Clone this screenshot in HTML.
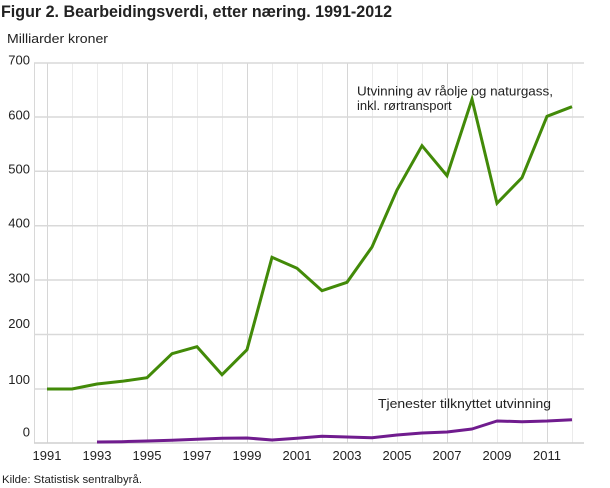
<!DOCTYPE html>
<html><head><meta charset="utf-8"><style>
html,body{margin:0;padding:0;background:#fff;}
svg{display:block;font-family:"Liberation Sans","DejaVu Sans",sans-serif;}
</style></head><body>
<svg width="610" height="488" viewBox="0 0 610 488" xmlns="http://www.w3.org/2000/svg">
<rect width="610" height="488" fill="#fff"/>
<text x="1" y="17" font-size="17" font-weight="bold" fill="#222" textLength="391" lengthAdjust="spacingAndGlyphs">Figur 2. Bearbeidingsverdi, etter næring. 1991-2012</text>
<text x="7" y="43" font-size="13" fill="#222" textLength="101" lengthAdjust="spacingAndGlyphs">Milliarder kroner</text>
<g stroke-width="1">
<line x1="34.5" y1="63" x2="34.5" y2="443" stroke="#d8d8d8"/>
<line x1="47.5" y1="63" x2="47.5" y2="443" stroke="#d6d6d6"/>
<line x1="72.5" y1="63" x2="72.5" y2="443" stroke="#ebebeb"/>
<line x1="97.5" y1="63" x2="97.5" y2="443" stroke="#ebebeb"/>
<line x1="122.5" y1="63" x2="122.5" y2="443" stroke="#ebebeb"/>
<line x1="147.5" y1="63" x2="147.5" y2="443" stroke="#d6d6d6"/>
<line x1="172.5" y1="63" x2="172.5" y2="443" stroke="#ebebeb"/>
<line x1="197.5" y1="63" x2="197.5" y2="443" stroke="#ebebeb"/>
<line x1="222.5" y1="63" x2="222.5" y2="443" stroke="#ebebeb"/>
<line x1="247.5" y1="63" x2="247.5" y2="443" stroke="#d6d6d6"/>
<line x1="272.5" y1="63" x2="272.5" y2="443" stroke="#ebebeb"/>
<line x1="297.5" y1="63" x2="297.5" y2="443" stroke="#ebebeb"/>
<line x1="322.5" y1="63" x2="322.5" y2="443" stroke="#ebebeb"/>
<line x1="347.5" y1="63" x2="347.5" y2="443" stroke="#d6d6d6"/>
<line x1="372.5" y1="63" x2="372.5" y2="443" stroke="#ebebeb"/>
<line x1="397.5" y1="63" x2="397.5" y2="443" stroke="#ebebeb"/>
<line x1="422.5" y1="63" x2="422.5" y2="443" stroke="#ebebeb"/>
<line x1="447.5" y1="63" x2="447.5" y2="443" stroke="#d6d6d6"/>
<line x1="472.5" y1="63" x2="472.5" y2="443" stroke="#ebebeb"/>
<line x1="497.5" y1="63" x2="497.5" y2="443" stroke="#ebebeb"/>
<line x1="522.5" y1="63" x2="522.5" y2="443" stroke="#ebebeb"/>
<line x1="547.5" y1="63" x2="547.5" y2="443" stroke="#d6d6d6"/>
<line x1="572.5" y1="63" x2="572.5" y2="443" stroke="#ebebeb"/>
</g>
<g stroke="#d9d9d9" stroke-width="1.5">
<line x1="34" y1="63" x2="584" y2="63"/>
<line x1="34" y1="117" x2="584" y2="117"/>
<line x1="34" y1="171.3" x2="584" y2="171.3"/>
<line x1="34" y1="225.7" x2="584" y2="225.7"/>
<line x1="34" y1="280" x2="584" y2="280"/>
<line x1="34" y1="334.5" x2="584" y2="334.5"/>
<line x1="34" y1="389" x2="584" y2="389"/>
<line x1="34" y1="443" x2="584" y2="443" stroke="#cfcfcf"/>
</g>
<g font-size="13" fill="#222" text-anchor="end">
<text x="30" y="64.5">700</text>
<text x="30" y="119.5">600</text>
<text x="30" y="173.5">500</text>
<text x="30" y="227.5">400</text>
<text x="30" y="282.5">300</text>
<text x="30" y="328">200</text>
<text x="30" y="384">100</text>
<text x="30" y="436.5">0</text>
</g>
<g font-size="13" fill="#222" text-anchor="middle">
<text x="47" y="460">1991</text>
<text x="97" y="460">1993</text>
<text x="147" y="460">1995</text>
<text x="197" y="460">1997</text>
<text x="247" y="460">1999</text>
<text x="297" y="460">2001</text>
<text x="347" y="460">2003</text>
<text x="397" y="460">2005</text>
<text x="447" y="460">2007</text>
<text x="497" y="460">2009</text>
<text x="547" y="460">2011</text>
</g>
<polyline fill="none" stroke="#428a08" stroke-width="3" stroke-linejoin="miter" points="47,389 72,389 97,384 122,381.3 147,377.7 172,353.7 197,346.7 222,374.7 247,349.7 272,257.3 297,268.3 322,290.7 347,282.3 372,247 397,190 422,145.7 447,175.7 472,99.3 497,203.3 522,177.7 547,116.3 572,106.7"/>
<polyline fill="none" stroke="#701c8e" stroke-width="3" stroke-linejoin="round" points="97,442 122,441.7 147,441 172,440.3 197,439.3 222,438.3 247,438 272,440 297,438.3 322,436.3 347,437 372,437.7 397,435 422,433 447,432 472,429 497,421 522,421.7 547,421 572,419.7"/>
<text x="357" y="95.5" font-size="13" fill="#222" textLength="196" lengthAdjust="spacingAndGlyphs">Utvinning av råolje og naturgass,</text>
<text x="357" y="110" font-size="13" fill="#222">inkl. rørtransport</text>
<text x="378" y="408" font-size="13" fill="#222" textLength="173" lengthAdjust="spacingAndGlyphs">Tjenester tilknyttet utvinning</text>
<text x="2" y="483" font-size="11" fill="#222" textLength="140" lengthAdjust="spacingAndGlyphs">Kilde: Statistisk sentralbyrå.</text>
</svg>
</body></html>
